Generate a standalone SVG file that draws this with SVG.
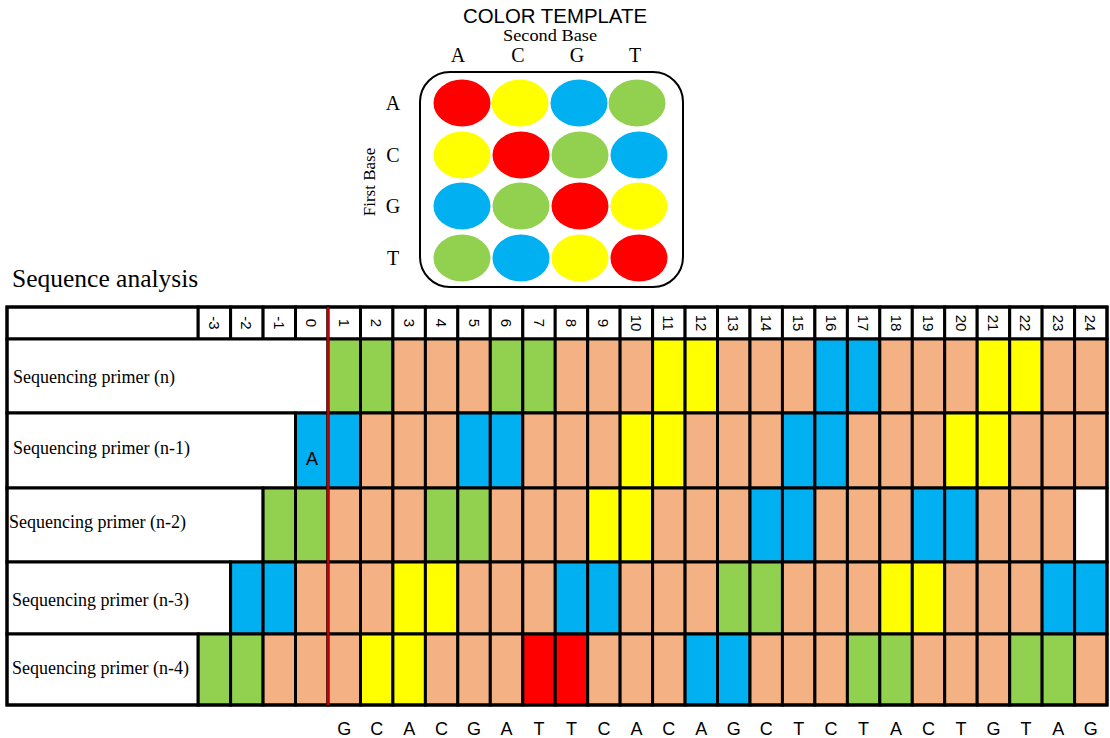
<svg xmlns="http://www.w3.org/2000/svg" width="1110" height="738" viewBox="0 0 1110 738">
<style>
.c{stroke:#000;stroke-width:3}
.s{fill:#F4B183}.g{fill:#92D050}.y{fill:#FFFF00}.b{fill:#00B0F0}.r{fill:#FF0000}.w{fill:#FFFFFF}
.ser{font-family:"Liberation Serif","Times New Roman",serif;fill:#000}
.san{font-family:"Liberation Sans",Arial,sans-serif;fill:#000}
.num{font-family:"Liberation Sans",Arial,sans-serif;font-size:15px;text-anchor:middle;dominant-baseline:central}
.lab{font-family:"Liberation Serif","Times New Roman",serif;font-size:18px}
.base{font-family:"Liberation Sans",Arial,sans-serif;font-size:18px;text-anchor:middle}
</style>
<rect width="1110" height="738" fill="#fff"/>
<g id="template">
<text class="san" x="555" y="23" font-size="21" text-anchor="middle" textLength="184" lengthAdjust="spacingAndGlyphs">COLOR TEMPLATE</text>
<text class="ser" x="550" y="41" font-size="16" text-anchor="middle" textLength="94" lengthAdjust="spacingAndGlyphs">Second Base</text>
<g class="ser" font-size="20" text-anchor="middle">
<text x="458" y="62">A</text><text x="518" y="62">C</text><text x="577" y="62">G</text><text x="635" y="62">T</text>
<text x="393" y="110">A</text><text x="393" y="162">C</text><text x="393" y="213">G</text><text x="393" y="265">T</text>
</g>
<text class="ser" font-size="17" text-anchor="middle" transform="translate(375 182) rotate(-90)">First Base</text>
<rect x="420" y="72" width="263" height="215" rx="30" ry="30" fill="none" stroke="#000" stroke-width="2"/>
<g>
<ellipse cx="462" cy="103" rx="28.5" ry="23.5" fill="#FF0000"/>
<ellipse cx="520" cy="103" rx="28.5" ry="23.5" fill="#FFFF00"/>
<ellipse cx="579" cy="103" rx="28.5" ry="23.5" fill="#00B0F0"/>
<ellipse cx="637" cy="103" rx="28.5" ry="23.5" fill="#92D050"/>
<ellipse cx="462" cy="155" rx="28.5" ry="23.5" fill="#FFFF00"/>
<ellipse cx="521" cy="155" rx="28.5" ry="23.5" fill="#FF0000"/>
<ellipse cx="580" cy="155" rx="28.5" ry="23.5" fill="#92D050"/>
<ellipse cx="639" cy="155" rx="28.5" ry="23.5" fill="#00B0F0"/>
<ellipse cx="462" cy="206" rx="28.5" ry="23.5" fill="#00B0F0"/>
<ellipse cx="521" cy="206" rx="28.5" ry="23.5" fill="#92D050"/>
<ellipse cx="580" cy="206" rx="28.5" ry="23.5" fill="#FF0000"/>
<ellipse cx="639" cy="206" rx="28.5" ry="23.5" fill="#FFFF00"/>
<ellipse cx="462" cy="258" rx="28.5" ry="23.5" fill="#92D050"/>
<ellipse cx="521" cy="258" rx="28.5" ry="23.5" fill="#00B0F0"/>
<ellipse cx="580" cy="258" rx="28.5" ry="23.5" fill="#FFFF00"/>
<ellipse cx="639" cy="258" rx="28.5" ry="23.5" fill="#FF0000"/>
</g>
</g>
<text class="ser" x="12" y="287" font-size="25.5">Sequence analysis</text>
<g id="header">
<rect class="c w" x="7" y="307" width="191.2" height="32"/>
<rect class="c w" x="198.2" y="307" width="32.5" height="32"/><rect class="c w" x="230.6" y="307" width="32.5" height="32"/><rect class="c w" x="263.1" y="307" width="32.5" height="32"/><rect class="c w" x="295.5" y="307" width="32.5" height="32"/>
<rect class="c w" x="328" y="307" width="32.5" height="32"/><rect class="c w" x="360.5" y="307" width="32.5" height="32"/><rect class="c w" x="392.9" y="307" width="32.5" height="32"/><rect class="c w" x="425.4" y="307" width="32.5" height="32"/><rect class="c w" x="457.8" y="307" width="32.5" height="32"/><rect class="c w" x="490.3" y="307" width="32.5" height="32"/><rect class="c w" x="522.8" y="307" width="32.5" height="32"/><rect class="c w" x="555.2" y="307" width="32.5" height="32"/><rect class="c w" x="587.7" y="307" width="32.5" height="32"/><rect class="c w" x="620.1" y="307" width="32.5" height="32"/><rect class="c w" x="652.6" y="307" width="32.5" height="32"/><rect class="c w" x="685.1" y="307" width="32.5" height="32"/>
<rect class="c w" x="717.5" y="307" width="32.5" height="32"/><rect class="c w" x="750" y="307" width="32.5" height="32"/><rect class="c w" x="782.4" y="307" width="32.5" height="32"/><rect class="c w" x="814.9" y="307" width="32.5" height="32"/><rect class="c w" x="847.4" y="307" width="32.5" height="32"/><rect class="c w" x="879.8" y="307" width="32.5" height="32"/><rect class="c w" x="912.3" y="307" width="32.5" height="32"/><rect class="c w" x="944.7" y="307" width="32.5" height="32"/><rect class="c w" x="977.2" y="307" width="32.5" height="32"/><rect class="c w" x="1009.7" y="307" width="32.5" height="32"/><rect class="c w" x="1042.1" y="307" width="32.5" height="32"/><rect class="c w" x="1074.6" y="307" width="32.4" height="32"/>
<g class="num">
<text transform="translate(214.4 323) rotate(90)">-3</text>
<text transform="translate(246.9 323) rotate(90)">-2</text>
<text transform="translate(279.3 323) rotate(90)">-1</text>
<text transform="translate(311.8 323) rotate(90)">0</text>
<text transform="translate(344.2 323) rotate(90)">1</text>
<text transform="translate(376.7 323) rotate(90)">2</text>
<text transform="translate(409.2 323) rotate(90)">3</text>
<text transform="translate(441.6 323) rotate(90)">4</text>
<text transform="translate(474.1 323) rotate(90)">5</text>
<text transform="translate(506.5 323) rotate(90)">6</text>
<text transform="translate(539 323) rotate(90)">7</text>
<text transform="translate(571.5 323) rotate(90)">8</text>
<text transform="translate(603.9 323) rotate(90)">9</text>
<text transform="translate(636.4 323) rotate(90)">10</text>
<text transform="translate(668.8 323) rotate(90)">11</text>
<text transform="translate(701.3 323) rotate(90)">12</text>
<text transform="translate(733.8 323) rotate(90)">13</text>
<text transform="translate(766.2 323) rotate(90)">14</text>
<text transform="translate(798.7 323) rotate(90)">15</text>
<text transform="translate(831.1 323) rotate(90)">16</text>
<text transform="translate(863.6 323) rotate(90)">17</text>
<text transform="translate(896 323) rotate(90)">18</text>
<text transform="translate(928.5 323) rotate(90)">19</text>
<text transform="translate(961 323) rotate(90)">20</text>
<text transform="translate(993.4 323) rotate(90)">21</text>
<text transform="translate(1025.9 323) rotate(90)">22</text>
<text transform="translate(1058.3 323) rotate(90)">23</text>
<text transform="translate(1090.8 323) rotate(90)">24</text>
</g>
</g>
<g id="row-n">
<rect class="c w" x="7" y="339" width="321" height="74"/>
<rect class="c g" x="328" y="339" width="32.5" height="74"/><rect class="c g" x="360.5" y="339" width="32.5" height="74"/><rect class="c s" x="392.9" y="339" width="32.5" height="74"/><rect class="c s" x="425.4" y="339" width="32.5" height="74"/><rect class="c s" x="457.8" y="339" width="32.5" height="74"/><rect class="c g" x="490.3" y="339" width="32.5" height="74"/><rect class="c g" x="522.8" y="339" width="32.5" height="74"/><rect class="c s" x="555.2" y="339" width="32.5" height="74"/><rect class="c s" x="587.7" y="339" width="32.5" height="74"/><rect class="c s" x="620.1" y="339" width="32.5" height="74"/><rect class="c y" x="652.6" y="339" width="32.5" height="74"/><rect class="c y" x="685.1" y="339" width="32.5" height="74"/>
<rect class="c s" x="717.5" y="339" width="32.5" height="74"/><rect class="c s" x="750" y="339" width="32.5" height="74"/><rect class="c s" x="782.4" y="339" width="32.5" height="74"/><rect class="c b" x="814.9" y="339" width="32.5" height="74"/><rect class="c b" x="847.4" y="339" width="32.5" height="74"/><rect class="c s" x="879.8" y="339" width="32.5" height="74"/><rect class="c s" x="912.3" y="339" width="32.5" height="74"/><rect class="c s" x="944.7" y="339" width="32.5" height="74"/><rect class="c y" x="977.2" y="339" width="32.5" height="74"/><rect class="c y" x="1009.7" y="339" width="32.5" height="74"/><rect class="c s" x="1042.1" y="339" width="32.5" height="74"/><rect class="c s" x="1074.6" y="339" width="32.4" height="74"/>
<text class="lab" x="13" y="383">Sequencing primer (n)</text>
</g>
<g id="row-n1">
<rect class="c w" x="7" y="413" width="288.5" height="75"/>
<rect class="c b" x="295.5" y="413" width="32.5" height="75"/>
<rect class="c b" x="328" y="413" width="32.5" height="75"/><rect class="c s" x="360.5" y="413" width="32.5" height="75"/><rect class="c s" x="392.9" y="413" width="32.5" height="75"/><rect class="c s" x="425.4" y="413" width="32.5" height="75"/><rect class="c b" x="457.8" y="413" width="32.5" height="75"/><rect class="c b" x="490.3" y="413" width="32.5" height="75"/><rect class="c s" x="522.8" y="413" width="32.5" height="75"/><rect class="c s" x="555.2" y="413" width="32.5" height="75"/><rect class="c s" x="587.7" y="413" width="32.5" height="75"/><rect class="c y" x="620.1" y="413" width="32.5" height="75"/><rect class="c y" x="652.6" y="413" width="32.5" height="75"/><rect class="c s" x="685.1" y="413" width="32.5" height="75"/>
<rect class="c s" x="717.5" y="413" width="32.5" height="75"/><rect class="c s" x="750" y="413" width="32.5" height="75"/><rect class="c b" x="782.4" y="413" width="32.5" height="75"/><rect class="c b" x="814.9" y="413" width="32.5" height="75"/><rect class="c s" x="847.4" y="413" width="32.5" height="75"/><rect class="c s" x="879.8" y="413" width="32.5" height="75"/><rect class="c s" x="912.3" y="413" width="32.5" height="75"/><rect class="c y" x="944.7" y="413" width="32.5" height="75"/><rect class="c y" x="977.2" y="413" width="32.5" height="75"/><rect class="c s" x="1009.7" y="413" width="32.5" height="75"/><rect class="c s" x="1042.1" y="413" width="32.5" height="75"/><rect class="c s" x="1074.6" y="413" width="32.4" height="75"/>
<text class="lab" x="13" y="454">Sequencing primer (n-1)</text>
<text class="san" x="312" y="465" font-size="18" text-anchor="middle">A</text>
</g>
<g id="row-n2">
<rect class="c w" x="7" y="488" width="256.1" height="74"/>
<rect class="c g" x="263.1" y="488" width="32.5" height="74"/><rect class="c g" x="295.5" y="488" width="32.5" height="74"/>
<rect class="c s" x="328" y="488" width="32.5" height="74"/><rect class="c s" x="360.5" y="488" width="32.5" height="74"/><rect class="c s" x="392.9" y="488" width="32.5" height="74"/><rect class="c g" x="425.4" y="488" width="32.5" height="74"/><rect class="c g" x="457.8" y="488" width="32.5" height="74"/><rect class="c s" x="490.3" y="488" width="32.5" height="74"/><rect class="c s" x="522.8" y="488" width="32.5" height="74"/><rect class="c s" x="555.2" y="488" width="32.5" height="74"/><rect class="c y" x="587.7" y="488" width="32.5" height="74"/><rect class="c y" x="620.1" y="488" width="32.5" height="74"/><rect class="c s" x="652.6" y="488" width="32.5" height="74"/><rect class="c s" x="685.1" y="488" width="32.5" height="74"/>
<rect class="c s" x="717.5" y="488" width="32.5" height="74"/><rect class="c b" x="750" y="488" width="32.5" height="74"/><rect class="c b" x="782.4" y="488" width="32.5" height="74"/><rect class="c s" x="814.9" y="488" width="32.5" height="74"/><rect class="c s" x="847.4" y="488" width="32.5" height="74"/><rect class="c s" x="879.8" y="488" width="32.5" height="74"/><rect class="c b" x="912.3" y="488" width="32.5" height="74"/><rect class="c b" x="944.7" y="488" width="32.5" height="74"/><rect class="c s" x="977.2" y="488" width="32.5" height="74"/><rect class="c s" x="1009.7" y="488" width="32.5" height="74"/><rect class="c s" x="1042.1" y="488" width="32.5" height="74"/><rect class="c w" x="1074.6" y="488" width="32.4" height="74"/>
<text class="lab" x="9" y="528">Sequencing primer (n-2)</text>
</g>
<g id="row-n3">
<rect class="c w" x="7" y="562" width="223.6" height="72"/>
<rect class="c b" x="230.6" y="562" width="32.5" height="72"/><rect class="c b" x="263.1" y="562" width="32.5" height="72"/><rect class="c s" x="295.5" y="562" width="32.5" height="72"/>
<rect class="c s" x="328" y="562" width="32.5" height="72"/><rect class="c s" x="360.5" y="562" width="32.5" height="72"/><rect class="c y" x="392.9" y="562" width="32.5" height="72"/><rect class="c y" x="425.4" y="562" width="32.5" height="72"/><rect class="c s" x="457.8" y="562" width="32.5" height="72"/><rect class="c s" x="490.3" y="562" width="32.5" height="72"/><rect class="c s" x="522.8" y="562" width="32.5" height="72"/><rect class="c b" x="555.2" y="562" width="32.5" height="72"/><rect class="c b" x="587.7" y="562" width="32.5" height="72"/><rect class="c s" x="620.1" y="562" width="32.5" height="72"/><rect class="c s" x="652.6" y="562" width="32.5" height="72"/><rect class="c s" x="685.1" y="562" width="32.5" height="72"/>
<rect class="c g" x="717.5" y="562" width="32.5" height="72"/><rect class="c g" x="750" y="562" width="32.5" height="72"/><rect class="c s" x="782.4" y="562" width="32.5" height="72"/><rect class="c s" x="814.9" y="562" width="32.5" height="72"/><rect class="c s" x="847.4" y="562" width="32.5" height="72"/><rect class="c y" x="879.8" y="562" width="32.5" height="72"/><rect class="c y" x="912.3" y="562" width="32.5" height="72"/><rect class="c s" x="944.7" y="562" width="32.5" height="72"/><rect class="c s" x="977.2" y="562" width="32.5" height="72"/><rect class="c s" x="1009.7" y="562" width="32.5" height="72"/><rect class="c b" x="1042.1" y="562" width="32.5" height="72"/><rect class="c b" x="1074.6" y="562" width="32.4" height="72"/>
<text class="lab" x="12" y="606">Sequencing primer (n-3)</text>
</g>
<g id="row-n4">
<rect class="c w" x="7" y="634" width="191.2" height="71"/>
<rect class="c g" x="198.2" y="634" width="32.5" height="71"/><rect class="c g" x="230.6" y="634" width="32.5" height="71"/><rect class="c s" x="263.1" y="634" width="32.5" height="71"/><rect class="c s" x="295.5" y="634" width="32.5" height="71"/>
<rect class="c s" x="328" y="634" width="32.5" height="71"/><rect class="c y" x="360.5" y="634" width="32.5" height="71"/><rect class="c y" x="392.9" y="634" width="32.5" height="71"/><rect class="c s" x="425.4" y="634" width="32.5" height="71"/><rect class="c s" x="457.8" y="634" width="32.5" height="71"/><rect class="c s" x="490.3" y="634" width="32.5" height="71"/><rect class="c r" x="522.8" y="634" width="32.5" height="71"/><rect class="c r" x="555.2" y="634" width="32.5" height="71"/><rect class="c s" x="587.7" y="634" width="32.5" height="71"/><rect class="c s" x="620.1" y="634" width="32.5" height="71"/><rect class="c s" x="652.6" y="634" width="32.5" height="71"/><rect class="c b" x="685.1" y="634" width="32.5" height="71"/>
<rect class="c b" x="717.5" y="634" width="32.5" height="71"/><rect class="c s" x="750" y="634" width="32.5" height="71"/><rect class="c s" x="782.4" y="634" width="32.5" height="71"/><rect class="c s" x="814.9" y="634" width="32.5" height="71"/><rect class="c g" x="847.4" y="634" width="32.5" height="71"/><rect class="c g" x="879.8" y="634" width="32.5" height="71"/><rect class="c s" x="912.3" y="634" width="32.5" height="71"/><rect class="c s" x="944.7" y="634" width="32.5" height="71"/><rect class="c s" x="977.2" y="634" width="32.5" height="71"/><rect class="c g" x="1009.7" y="634" width="32.5" height="71"/><rect class="c g" x="1042.1" y="634" width="32.5" height="71"/><rect class="c s" x="1074.6" y="634" width="32.4" height="71"/>
<text class="lab" x="12" y="674">Sequencing primer (n-4)</text>
</g>
<g id="connectors">
<rect x="7" y="307" width="1100" height="398" fill="none" stroke="#000" stroke-width="3"/>
<line x1="328" y1="307" x2="328" y2="705" stroke="#C00000" stroke-width="2.5"/>
</g>
<g id="sequence" class="base">
<text x="344.2" y="735">G</text><text x="376.7" y="735">C</text><text x="409.2" y="735">A</text><text x="441.6" y="735">C</text><text x="474.1" y="735">G</text><text x="506.5" y="735">A</text><text x="539" y="735">T</text><text x="571.5" y="735">T</text><text x="603.9" y="735">C</text><text x="636.4" y="735">A</text><text x="668.8" y="735">C</text><text x="701.3" y="735">A</text>
<text x="733.8" y="735">G</text><text x="766.2" y="735">C</text><text x="798.7" y="735">T</text><text x="831.1" y="735">C</text><text x="863.6" y="735">T</text><text x="896" y="735">A</text><text x="928.5" y="735">C</text><text x="961" y="735">T</text><text x="993.4" y="735">G</text><text x="1025.9" y="735">T</text><text x="1058.3" y="735">A</text><text x="1090.8" y="735">G</text>
</g>
</svg>
